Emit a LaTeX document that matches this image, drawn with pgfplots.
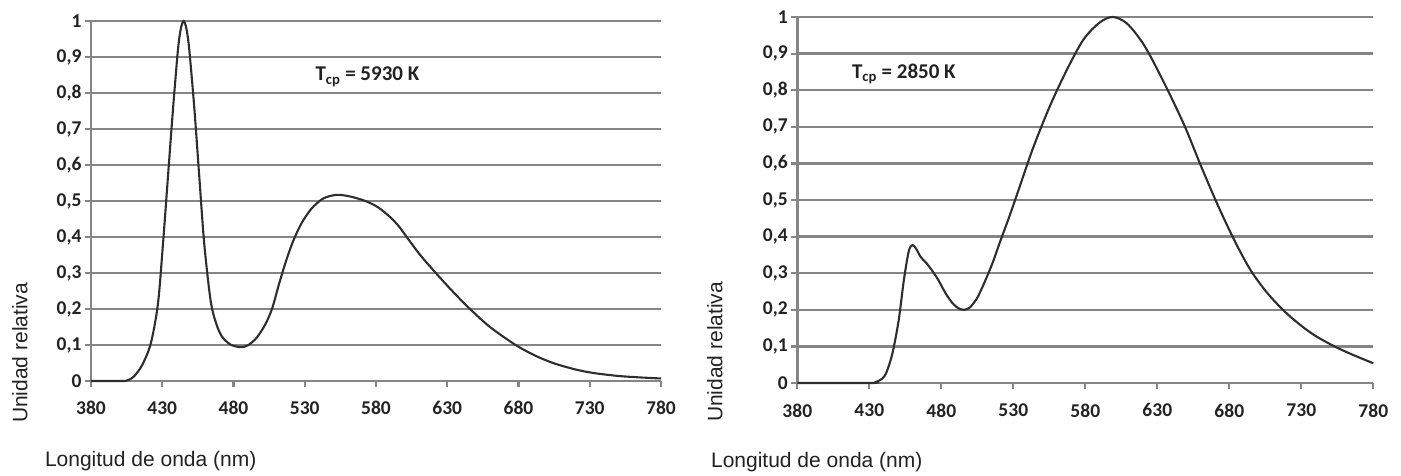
\documentclass[border=0pt]{standalone}
\usepackage{fontspec}
\setmainfont{Liberation Sans}
\newfontfamily\calb{Carlito}
\usepackage{pgfplots}
\pgfplotsset{compat=1.18}
\definecolor{gridg}{HTML}{858585}
\definecolor{curve}{HTML}{2E2E2E}
\definecolor{txt}{HTML}{222222}
\pgfplotsset{
  specaxis/.style={
    scale only axis,
    anchor=south west,
    xmin=380, xmax=780, ymin=0, ymax=1,
    axis x line*=bottom, axis y line*=left,
    axis line style={gridg, line width=2.4pt},
    xtick={380,430,480,530,580,630,680,730,780},
    xticklabels={380,430,480,530,580,630,680,730,780},
    ytick={0,0.1,0.2,0.3,0.4,0.5,0.6,0.7,0.8,0.9,1},
    yticklabels={0,{0,1},{0,2},{0,3},{0,4},{0,5},{0,6},{0,7},{0,8},{0,9},1},
    tick align=outside,
    major tick length=6pt,
    tick style={gridg, line width=2.2pt},
    ymajorgrids,
    major grid style={gridg, line width=2.4pt},
    ticklabel style={font=\calb\bfseries\fontsize{19.5}{19.5}\selectfont, text=txt},
    xticklabel style={yshift=-11pt},
    label style={font=\fontsize{21}{24}\selectfont, text=txt, inner sep=0pt},
    clip=false,
  },
  spec/.style={curve, line width=2.1pt, smooth, tension=0.5, mark=none},
}
\begin{document}
\begin{tikzpicture}
\path[use as bounding box] (0,0) rectangle (1401pt,475pt);
\begin{axis}[specaxis, at={(91pt,94pt)}, width=570pt, height=360pt,
  xlabel={Longitud de onda (nm)},
  xlabel style={at={(rel axis cs:-0.081,-0.222)}, anchor=west},
  ylabel={Unidad relativa},
  ylabel style={at={(rel axis cs:-0.125,-0.117)}, anchor=west, rotate=0},
]
\addplot[spec] coordinates {
(380,0) (400,0) (405,0.001) (410,0.012) (416,0.045) (422,0.105) (427,0.215)
(430.5,0.38) (434,0.567) (437.5,0.753) (441,0.919) (443,0.978) (445,1.0)
(447,0.978) (449,0.919) (452.6,0.753) (456,0.567) (459.5,0.38) (464,0.222)
(468,0.158) (472,0.123) (478,0.101) (485,0.094) (490,0.099) (496,0.119) (502,0.155)
(507,0.2) (512,0.27) (517,0.335) (522,0.39) (528,0.44) (535,0.48) (543,0.507)
(552,0.517) (560,0.514) (568,0.506) (575,0.496) (582,0.481) (590,0.455) (596,0.43)
(601,0.403) (611,0.35) (622,0.3) (634,0.248) (646,0.2) (660,0.15) (678,0.1) (692,0.07)
(705,0.049) (720,0.032) (733,0.022) (750,0.014) (765,0.01) (780,0.007)
};
\node[font=\calb\bfseries\fontsize{21}{21}\selectfont, text=txt] at (axis cs:574,0.845) {T\textsubscript{cp} = 5930 K};
\end{axis}
\begin{axis}[specaxis, at={(797.3pt,92pt)}, width=576pt, height=366pt,
  xlabel={Longitud de onda (nm)},
  xlabel style={at={(rel axis cs:-0.15,-0.215)}, anchor=west},
  ylabel={Unidad relativa},
  ylabel style={at={(rel axis cs:-0.143,-0.107)}, anchor=west, rotate=0},
]
\addplot[spec] coordinates {
(380,0) (430,0) (434,0.002) (439,0.012) (442,0.03) (446,0.08) (450.4,0.171)
(454,0.281) (457.4,0.36) (460,0.377) (462.5,0.367) (465.6,0.345) (470,0.326)
(474,0.305) (478,0.281) (483,0.245) (488,0.217) (492,0.204) (496,0.2) (500,0.207)
(505,0.233) (510,0.275) (515.5,0.327) (521,0.388) (527,0.452) (533,0.52) (544,0.645)
(556,0.762) (568,0.862) (579,0.94) (590,0.985) (599,1.0) (609,0.982) (621,0.922)
(635,0.818) (649,0.702) (660,0.596) (672,0.486) (684,0.386) (695,0.307) (707,0.243)
(721,0.186) (737,0.136) (753,0.1) (767,0.075) (780,0.054)
};
\node[font=\calb\bfseries\fontsize{21}{21}\selectfont, text=txt] at (axis cs:454,0.845) {T\textsubscript{cp} = 2850 K};
\end{axis}
\end{tikzpicture}
\end{document}
